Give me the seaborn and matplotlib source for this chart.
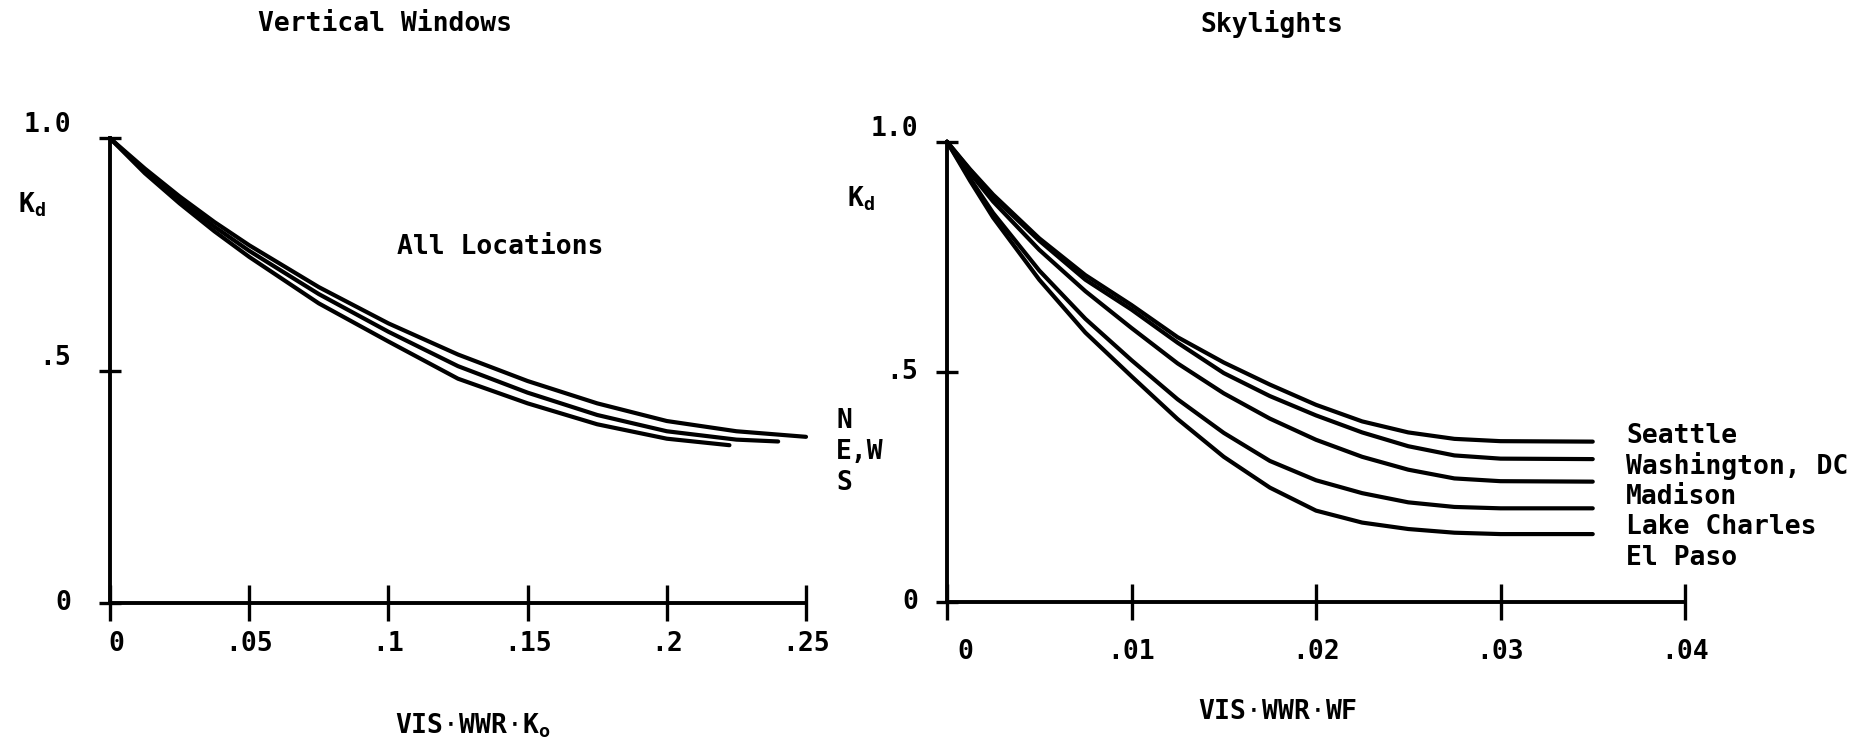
import numpy as np
import pandas as pd
import matplotlib
matplotlib.use("Agg")
import matplotlib.pyplot as plt
import matplotlib.transforms as mtrans
import seaborn as sns

# ---------------- data ----------------
# Left panel: Vertical Windows, x = VIS*WWR*Ko
vw_x_N = [0, .0125, .025, .0375, .05, .075, .1, .125, .15, .175, .2, .225, .25]
vw_y_N = [1.0, 0.935, 0.875, 0.82, 0.77, 0.68, 0.602, 0.535, 0.478, 0.43, 0.392, 0.37, 0.358]
vw_x_EW = [0, .0125, .025, .0375, .05, .075, .1, .125, .15, .175, .2, .225, .24]
vw_y_EW = [1.0, 0.93, 0.868, 0.81, 0.758, 0.665, 0.584, 0.51, 0.453, 0.405, 0.37, 0.352, 0.348]
vw_x_S = [0, .0125, .025, .0375, .05, .075, .1, .125, .15, .175, .2, .2225]
vw_y_S = [1.0, 0.925, 0.86, 0.80, 0.745, 0.645, 0.563, 0.483, 0.43, 0.385, 0.354, 0.340]
vw_labels = ["N", "E,W", "S"]

# Right panel: Skylights, x = VIS*WWR*WF
sk_x = [0, .00125, .0025, .005, .0075, .01, .0125, .015, .0175, .02, .0225,
        .025, .0275, .03, .035]
sk_seattle = [1.0, 0.94, 0.885, 0.79, 0.71, 0.645, 0.575, 0.52, 0.472, 0.428,
              0.392, 0.368, 0.354, 0.349, 0.348]
sk_washington = [1.0, 0.938, 0.88, 0.785, 0.70, 0.635, 0.563, 0.497, 0.447,
                 0.405, 0.368, 0.338, 0.318, 0.311, 0.310]
sk_madison = [1.0, 0.932, 0.87, 0.765, 0.675, 0.595, 0.518, 0.453, 0.398,
              0.352, 0.315, 0.287, 0.268, 0.262, 0.261]
sk_lakecharles = [1.0, 0.92, 0.845, 0.72, 0.615, 0.525, 0.44, 0.367, 0.306,
                  0.264, 0.236, 0.216, 0.206, 0.203, 0.203]
sk_elpaso = [1.0, 0.915, 0.835, 0.70, 0.585, 0.49, 0.397, 0.315, 0.248, 0.198,
             0.172, 0.158, 0.150, 0.147, 0.147]
sk_labels = ["Seattle", "Washington, DC", "Madison", "Lake Charles", "El Paso"]

vw_xticks = [0, .05, .1, .15, .2, .25]
vw_xticklabels = ["0", ".05", ".1", ".15", ".2", ".25"]
sk_xticks = [0, .01, .02, .03, .04]
sk_xticklabels = ["0", ".01", ".02", ".03", ".04"]
yticks = [0, .5, 1.0]
yticklabels = ["0", ".5", "1.0"]

# ---------------- style ----------------
sns.set_style("ticks")
FONT = ["DejaVu Sans Mono", "DejaVu Sans"]
plt.rcParams["font.family"] = FONT
plt.rcParams["text.color"] = "black"
plt.rcParams["mathtext.fontset"] = "custom"
plt.rcParams["mathtext.rm"] = "DejaVu Sans Mono"
plt.rcParams["mathtext.it"] = "DejaVu Sans Mono"
plt.rcParams["mathtext.bf"] = "DejaVu Sans Mono:bold"
FS = 19
FW = "semibold"
LW = 3.0
W, H = 1869, 748

fig = plt.figure(figsize=(W / 100, H / 100), dpi=100)
axL = fig.add_axes([110 / W, 1 - 603.3 / H, 696 / W, 465 / H])
axR = fig.add_axes([947 / W, 1 - 601.7 / H, 738 / W, 460 / H])

vw_df = pd.concat([
    pd.DataFrame({"x": vw_x_N, "y": vw_y_N, "s": "N"}),
    pd.DataFrame({"x": vw_x_EW, "y": vw_y_EW, "s": "E,W"}),
    pd.DataFrame({"x": vw_x_S, "y": vw_y_S, "s": "S"}),
], ignore_index=True)

sk_df = pd.concat([
    pd.DataFrame({"x": sk_x, "y": v, "s": n})
    for n, v in zip(sk_labels, [sk_seattle, sk_washington, sk_madison,
                                sk_lakecharles, sk_elpaso])
], ignore_index=True)

for ax, df in [(axL, vw_df), (axR, sk_df)]:
    sns.lineplot(data=df, x="x", y="y", units="s", estimator=None, sort=False,
                 color="black", lw=LW, ax=ax, legend=False, clip_on=False,
                 solid_capstyle="round", solid_joinstyle="round")

def style_axes(ax, xmax, xticks, xticklabels, xpad, ypad):
    ax.set_xlim(0, xmax)
    ax.set_ylim(0, 1.0)
    for s in ["top", "right"]:
        ax.spines[s].set_visible(False)
    for s in ["left", "bottom"]:
        ax.spines[s].set_linewidth(2.8)
        ax.spines[s].set_color("black")
        ax.spines[s].set_capstyle("projecting")
    ax.set_xticks(xticks)
    ax.set_xticklabels(xticklabels)
    ax.set_yticks(yticks)
    ax.set_yticklabels(yticklabels)
    ax.tick_params(axis="x", which="major", bottom=True, direction="inout",
                   length=26, width=2.4, pad=xpad, labelsize=FS,
                   colors="black", labelcolor="black")
    ax.tick_params(axis="y", which="major", left=True, direction="inout",
                   length=16, width=2.4, pad=ypad, labelsize=FS,
                   colors="black", labelcolor="black")
    ax.set_xlabel("")
    ax.set_ylabel("")
    for t in ax.get_xticklabels() + ax.get_yticklabels():
        t.set_family(FONT)
        t.set_fontweight(FW)

style_axes(axL, 0.25, vw_xticks, vw_xticklabels, 7, 20)
style_axes(axR, 0.04, sk_xticks, sk_xticklabels, 14, 13)

# y tick label vertical placement as in the reference
for lbl in axL.get_yticklabels():
    lbl.set_va("center" if lbl.get_text() == "0" else "bottom")
for lbl in axR.get_yticklabels():
    lbl.set_va("bottom" if lbl.get_text() == "1.0" else "center")

# the "0" x tick labels sit a little right of their tick in the reference
for ax, dx in [(axL, 6), (axR, 18)]:
    lbl = ax.get_xticklabels()[0]
    lbl.set_transform(lbl.get_transform() +
                      mtrans.ScaledTranslation(dx / 100, 0, fig.dpi_scale_trans))

def ftext(x, y, s, **kw):
    kw.setdefault("fontsize", FS)
    kw.setdefault("family", FONT)
    kw.setdefault("fontweight", FW)
    kw.setdefault("color", "black")
    fig.text(x / W, 1 - y / H, s, **kw)

# titles
ftext(385, 24, "Vertical Windows", ha="center", va="center")
ftext(1272, 24, "Skylights", ha="center", va="center")
# y labels
ftext(32, 205, r"K$_\mathbf{d}$", ha="center", va="center")
ftext(861, 199, r"K$_\mathbf{d}$", ha="center", va="center")
# annotation
ftext(500, 247, "All Locations", ha="center", va="center")
# x labels
ftext(473, 726, r"VIS$\cdot$WWR$\cdot$K$_\mathbf{o}$", ha="center", va="center")
ftext(1278, 712, r"VIS$\cdot$WWR$\cdot$WF", ha="center", va="center")

# series labels
for i, s in enumerate(vw_labels):
    ftext(836, 421 + i * 31, s, ha="left", va="center")
for i, s in enumerate(sk_labels):
    ftext(1626, 436 + i * 30.5, s, ha="left", va="center")

fig.savefig("out.png", dpi=100, facecolor="white")
